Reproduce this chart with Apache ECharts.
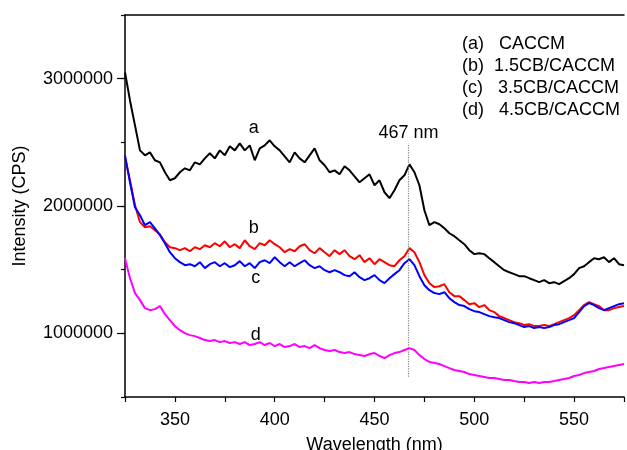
<!DOCTYPE html>
<html>
<head>
<meta charset="utf-8">
<script src="https://cdn.jsdelivr.net/npm/echarts@6/dist/echarts.min.js"></script>
<style>
  html, body { margin: 0; padding: 0; background: #fff; }
  #main { width: 627px; height: 450px; }
</style>
</head>
<body>
<div id="main"></div>
<script>
var wavelength = [325, 327.5, 330, 332.5, 335, 337.5, 340, 342.5, 345, 347.5, 350, 352.5, 355, 357.5, 360, 362.5, 365, 367.5, 370, 372.5,
	375, 377.5, 380, 382.5, 385, 387.5, 390, 392.5, 395, 397.5, 400, 402.5, 405, 407.5, 410, 412.5, 415, 417.5, 420, 422.5,
	425, 427.5, 430, 432.5, 435, 437.5, 440, 442.5, 445, 447.5, 450, 452.5, 455, 457.5, 460, 462.5, 465, 467.5, 470, 472.5,
	475, 477.5, 480, 482.5, 485, 487.5, 490, 492.5, 495, 497.5, 500, 502.5, 505, 507.5, 510, 512.5, 515, 517.5, 520, 522.5,
	525, 527.5, 530, 532.5, 535, 537.5, 540, 542.5, 545, 547.5, 550, 552.5, 555, 557.5, 560, 562.5, 565, 567.5, 570, 572.5, 575];

// (a) CACCM
var seriesA = [3050000, 2829000, 2633000, 2437000, 2398000, 2421000, 2359000, 2343000, 2265000, 2202000, 2218000, 2265000, 2296000, 2280000, 2343000, 2327000, 2374000, 2414000, 2374000, 2437000,
	2398000, 2469000, 2437000, 2492000, 2437000, 2476000, 2359000, 2453000, 2476000, 2516000, 2469000, 2437000, 2390000, 2343000, 2421000, 2374000, 2343000, 2398000, 2453000, 2359000,
	2320000, 2265000, 2280000, 2249000, 2312000, 2280000, 2233000, 2186000, 2218000, 2249000, 2163000, 2202000, 2108000, 2061000, 2124000, 2202000, 2241000, 2327000, 2265000, 2163000,
	1967000, 1849000, 1873000, 1857000, 1825000, 1786000, 1763000, 1731000, 1700000, 1653000, 1622000, 1629000, 1622000, 1590000, 1559000, 1527000, 1496000, 1480000, 1465000, 1449000,
	1449000, 1433000, 1418000, 1402000, 1418000, 1394000, 1402000, 1386000, 1410000, 1433000, 1465000, 1512000, 1527000, 1559000, 1590000, 1582000, 1598000, 1559000, 1590000, 1543000, 1535000];

// (b) 1.5CB/CACCM
var seriesB = [2382000, 2200000, 2006000, 1873000, 1833000, 1841000, 1810000, 1778000, 1716000, 1676000, 1669000, 1653000, 1669000, 1645000, 1676000, 1661000, 1692000, 1676000, 1708000, 1684000,
	1723000, 1676000, 1700000, 1669000, 1731000, 1684000, 1661000, 1708000, 1692000, 1731000, 1700000, 1676000, 1637000, 1661000, 1645000, 1684000, 1700000, 1653000, 1629000, 1669000,
	1637000, 1606000, 1653000, 1622000, 1653000, 1606000, 1582000, 1614000, 1559000, 1590000, 1543000, 1582000, 1559000, 1535000, 1527000, 1574000, 1606000, 1669000, 1637000, 1559000,
	1457000, 1394000, 1363000, 1370000, 1386000, 1323000, 1292000, 1292000, 1261000, 1229000, 1237000, 1206000, 1222000, 1182000, 1167000, 1135000, 1120000, 1104000, 1088000, 1080000,
	1065000, 1072000, 1057000, 1057000, 1065000, 1057000, 1072000, 1088000, 1104000, 1120000, 1143000, 1182000, 1222000, 1245000, 1229000, 1214000, 1182000, 1182000, 1198000, 1206000, 1214000];

// (c) 3.5CB/CACCM
var seriesC = [2398000, 2186000, 1990000, 1927000, 1849000, 1873000, 1825000, 1771000, 1708000, 1637000, 1590000, 1559000, 1535000, 1543000, 1527000, 1559000, 1512000, 1543000, 1559000, 1527000,
	1551000, 1520000, 1535000, 1567000, 1527000, 1551000, 1512000, 1559000, 1574000, 1551000, 1598000, 1559000, 1527000, 1559000, 1527000, 1551000, 1574000, 1535000, 1512000, 1527000,
	1496000, 1480000, 1496000, 1480000, 1457000, 1449000, 1480000, 1441000, 1418000, 1433000, 1457000, 1418000, 1394000, 1433000, 1465000, 1496000, 1551000, 1582000, 1535000, 1449000,
	1378000, 1339000, 1316000, 1308000, 1323000, 1276000, 1245000, 1222000, 1214000, 1190000, 1174000, 1167000, 1151000, 1135000, 1127000, 1120000, 1104000, 1088000, 1080000, 1065000,
	1049000, 1057000, 1041000, 1049000, 1041000, 1049000, 1065000, 1072000, 1088000, 1104000, 1120000, 1167000, 1214000, 1237000, 1222000, 1198000, 1182000, 1198000, 1214000, 1229000, 1237000];

// (d) 4.5CB/CACCM
var seriesD = [1590000, 1433000, 1316000, 1261000, 1198000, 1182000, 1190000, 1214000, 1151000, 1104000, 1057000, 1025000, 1002000, 986000, 978000, 963000, 947000, 939000, 947000, 931000,
	939000, 924000, 931000, 916000, 931000, 908000, 916000, 931000, 908000, 924000, 900000, 916000, 892000, 900000, 916000, 892000, 900000, 884000, 908000, 884000,
	869000, 861000, 869000, 853000, 845000, 853000, 837000, 829000, 822000, 837000, 845000, 822000, 806000, 829000, 845000, 853000, 869000, 884000, 869000, 829000,
	798000, 775000, 767000, 759000, 743000, 727000, 712000, 704000, 696000, 680000, 673000, 665000, 657000, 649000, 649000, 641000, 633000, 633000, 625000, 618000,
	618000, 610000, 618000, 610000, 618000, 618000, 625000, 633000, 641000, 649000, 665000, 673000, 688000, 696000, 704000, 720000, 727000, 735000, 743000, 751000, 759000];

var seriesNames = ['(a)   CACCM', '(b)  1.5CB/CACCM', '(c)   3.5CB/CACCM', '(d)   4.5CB/CACCM'];
var seriesColors = ['#000000', '#ff0000', '#0000ff', '#ff00ff'];
var curveLetters = ['a', 'b', 'c', 'd'];
// where the letters sit (wavelength, intensity)
var letterPos = [[389.5, 2610000], [389.5, 1825000], [390.5, 1433000], [390.5, 986000]];
var peakWavelength = 467;
var peakLine = [660000, 2490000];
// y tick positions (long ticks only on the labelled ones)
var yTicks = ['500000', '1000000', '1500000', '2000000', '2500000', '3000000', '3500000'];

var myChart = echarts.init(document.getElementById('main'));
var font = 'Arial, "Liberation Sans", sans-serif';
var fs = 18;

function pairs(ys) {
	return wavelength.map(function (x, i) { return [x, ys[i]]; });
}

var allData = [seriesA, seriesB, seriesC, seriesD];

var series = allData.map(function (ys, k) {
	var s = {
		name: seriesNames[k],
		type: 'line',
		yAxisIndex: 0,
		data: pairs(ys),
		showSymbol: false,
		symbol: 'none',
		lineStyle: { color: seriesColors[k], width: 2 },
		itemStyle: { color: seriesColors[k] },
		z: 3,
		animation: false,
		markPoint: {
			symbol: 'circle',
			symbolSize: 0,
			label: {
				show: true, position: 'inside', formatter: curveLetters[k],
				color: '#000', fontSize: fs, fontFamily: font
			},
			data: [{ coord: letterPos[k] }]
		}
	};
	if (k === 0) {
		s.markLine = {
			symbol: 'none',
			silent: true,
			lineStyle: { color: '#888', type: 'dotted', width: 1.2 },
			label: {
				show: true, position: 'end', formatter: peakWavelength + ' nm',
				color: '#000', fontSize: fs, fontFamily: font, distance: 2
			},
			data: [[{ coord: [peakWavelength, peakLine[0]] }, { coord: [peakWavelength, peakLine[1]] }]]
		};
	}
	return s;
});

var option = {
	backgroundColor: '#fff',
	animation: false,
	// keep the plot box fixed, the axis title may run off the bottom
	grid: { left: 125, right: 3, top: 15, bottom: 53, outerBoundsMode: 'none', containLabel: false },
	legend: {
		orient: 'vertical',
		left: 452,
		top: 30,
		icon: 'none',
		itemWidth: 0,
		itemHeight: 10,
		itemGap: 4,
		selectedMode: false,
		textStyle: { color: '#000', fontSize: fs, fontFamily: font },
		data: seriesNames
	},
	xAxis: [{
		type: 'value',
		min: 325,
		max: 575,
		interval: 25,
		name: 'Wavelength (nm)',
		nameLocation: 'middle',
		nameGap: 39,
		nameTextStyle: { color: '#000', fontSize: fs, fontFamily: font },
		axisLine: { lineStyle: { color: '#000', width: 1.5 } },
		axisTick: { show: true, inside: false, length: 5, lineStyle: { color: '#000', width: 1.2 } },
		axisLabel: {
			color: '#000', fontSize: fs, fontFamily: font, margin: 14,
			formatter: function (v) { return (v % 50 === 0) ? String(v) : ''; }
		},
		splitLine: { show: false }
	}, {
		type: 'value',
		position: 'top',
		min: 325,
		max: 575,
		axisLine: { show: true, lineStyle: { color: '#000', width: 1.5 } },
		axisTick: { show: false },
		axisLabel: { show: false },
		splitLine: { show: false }
	}],
	yAxis: [{
		type: 'value',
		min: 500000,
		max: 3500000,
		interval: 500000,
		name: 'Intensity (CPS)',
		nameLocation: 'middle',
		nameGap: 96,
		nameTextStyle: { color: '#000', fontSize: fs, fontFamily: font },
		axisLine: { show: true, lineStyle: { color: '#000', width: 1.5 } },
		axisTick: { show: true, inside: false, length: 4, lineStyle: { color: '#000', width: 1.2 } },
		axisLabel: {
			color: '#000', fontSize: fs, fontFamily: font, margin: 12,
			formatter: function (v) { return (v % 1000000 === 0) ? String(v) : ''; }
		},
		splitLine: { show: false }
	}, {
		type: 'category',
		position: 'left',
		data: yTicks,
		boundaryGap: false,
		axisLine: { show: false },
		axisTick: {
			show: true, inside: false, length: 8,
			interval: function (i, v) { return Number(v) % 1000000 === 0; },
			lineStyle: { color: '#000', width: 1.2 }
		},
		axisLabel: { show: false },
		splitLine: { show: false }
	}],
	series: series
};

myChart.setOption(option);
</script>
</body>
</html>
